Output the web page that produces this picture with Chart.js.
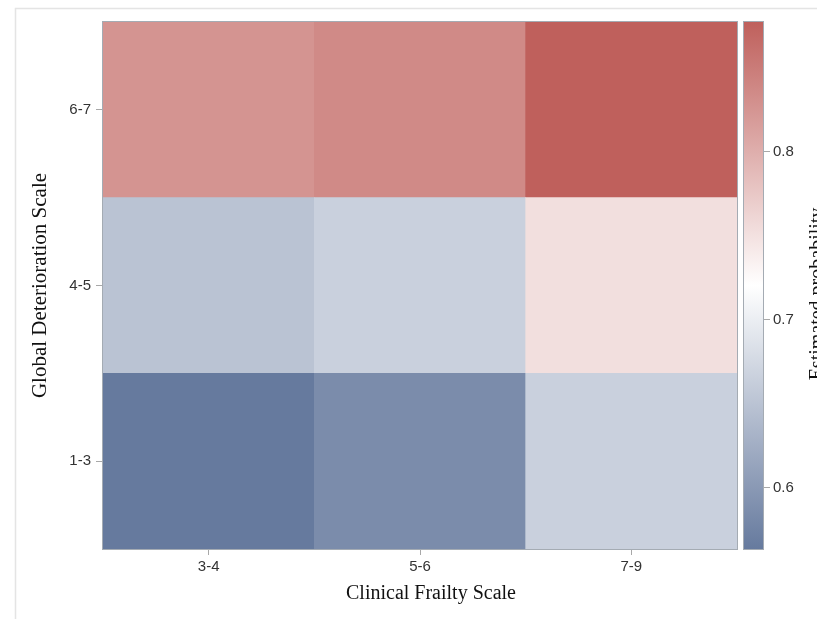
<!DOCTYPE HTML>
<html>
	<head>
		<title>Estimated probability heatmap</title>
		<meta charset="utf-8" />
		<style>
			html, body { margin: 0; padding: 0; background: #fff; }
			#wrap { width: 817px; height: 619px; }
		</style>
	</head>
	<body>
		<div id="wrap"><canvas id="heat" width="817" height="619"></canvas></div>

		<script src="https://cdn.jsdelivr.net/npm/chart.js"></script>
		<script>
			// Categories
			const frailty = ["3-4", "5-6", "7-9"];
			const gds = ["1-3", "4-5", "6-7"];

			// Estimated probability per GDS row, one value per frailty column
			const probGds13 = [0.564, 0.585, 0.665];
			const probGds45 = [0.650, 0.665, 0.752];
			const probGds67 = [0.826, 0.836, 0.877];

			// Colour bar
			const cbTicks = [0.6, 0.7, 0.8];
			const cbMin = 0.5637;
			const cbMax = 0.877;

			const low = [102, 122, 158], mid = [255, 255, 255], high = [191, 96, 92];

			function ramp(v) {
				let t = (v - cbMin) / (cbMax - cbMin);
				t = Math.max(0, Math.min(1, t));
				let a, b, f;
				if (t < 0.5) { a = low; b = mid; f = t / 0.5; }
				else { a = mid; b = high; f = (t - 0.5) / 0.5; }
				const c = a.map((x, i) => Math.round(x + (b[i] - x) * f));
				return "rgb(" + c.join(",") + ")";
			}

			const rows = [probGds13, probGds45, probGds67];
			const datasets = rows.map((vals, r) => ({
				label: gds[r],
				data: vals.map(() => 1),
				probs: vals,
				backgroundColor: vals.map(ramp),
				borderWidth: 0,
				categoryPercentage: 1,
				barPercentage: 1
			}));

			const tickFont = { family: "Liberation Sans", size: 15 };
			const titleFont = "20px 'Liberation Serif'";

			// frame, plot border, colour bar and titles
			const decor = {
				id: "decor",
				beforeDraw(chart) {
					const ctx = chart.ctx;
					ctx.save();
					ctx.strokeStyle = "#e4e4e4";
					ctx.lineWidth = 1.5;
					ctx.beginPath();
					ctx.moveTo(817, 8.5);
					ctx.lineTo(15.5, 8.5);
					ctx.lineTo(15.5, 619);
					ctx.stroke();
					ctx.restore();
				},
				afterDraw(chart) {
					const ctx = chart.ctx;
					const a = chart.chartArea;
					const cb = chart.scales.cb;
					ctx.save();
					ctx.strokeStyle = "#a4abb3";
					ctx.lineWidth = 1;
					ctx.strokeRect(a.left - 0.5, a.top - 0.5, a.right - a.left + 1, a.bottom - a.top + 1);

					// colour bar
					const x0 = cb.left - 19, x1 = cb.left;
					const g = ctx.createLinearGradient(0, cb.bottom, 0, cb.top);
					g.addColorStop(0, ramp(cbMin));
					g.addColorStop(0.5, ramp((cbMin + cbMax) / 2));
					g.addColorStop(1, ramp(cbMax));
					ctx.fillStyle = g;
					ctx.fillRect(x0, cb.top, x1 - x0, cb.bottom - cb.top);
					ctx.strokeRect(x0 - 0.5, cb.top - 0.5, x1 - x0 + 1, cb.bottom - cb.top + 1);

					// titles
					ctx.fillStyle = "#111";
					ctx.font = titleFont;
					ctx.textAlign = "center";
					ctx.textBaseline = "middle";
					ctx.fillText("Clinical Frailty Scale", 431, 594);

					ctx.save();
					ctx.translate(40, (a.top + a.bottom) / 2);
					ctx.rotate(-Math.PI / 2);
					ctx.font = "21px 'Liberation Serif'";
					ctx.fillText("Global Deterioration Scale", 0, 0);
					ctx.restore();

					ctx.save();
					ctx.translate(823, 294);
					ctx.rotate(-Math.PI / 2);
					ctx.textBaseline = "alphabetic";
					ctx.fillText("Estimated probability", 0, 0);
					ctx.restore();
					ctx.restore();
				}
			};

			new Chart(document.getElementById("heat"), {
				type: "bar",
				data: { labels: frailty, datasets: datasets },
				options: {
					responsive: false,
					animation: false,
					layout: { padding: { left: 0, top: 22, right: 0, bottom: 0 } },
					plugins: { legend: { display: false }, tooltip: { enabled: false } },
					scales: {
						x: {
							stacked: true,
							grid: { offset: false, drawOnChartArea: false, tickLength: 6, color: "#a8a8a8" },
							border: { display: false },
							ticks: { font: tickFont, color: "#333", padding: 3, maxRotation: 0 },
							afterFit: s => { s.height = 70; }
						},
						y: {
							stacked: true,
							min: 0,
							max: 3,
							grid: { drawOnChartArea: false, tickLength: 7, color: "#a8a8a8" },
							border: { display: false },
							afterBuildTicks: s => { s.ticks = [0.5, 1.5, 2.5].map(v => ({ value: v })); },
							ticks: {
								font: tickFont, color: "#333", padding: 5,
								callback: v => gds[Math.floor(v)]
							},
							afterFit: s => { s.width = 103; }
						},
						gap: {
							type: "linear",
							position: "right",
							weight: 1,
							grid: { display: false },
							border: { display: false },
							ticks: { display: false },
							afterFit: s => { s.width = 26; }
						},
						cb: {
							type: "linear",
							position: "right",
							weight: 2,
							min: cbMin,
							max: cbMax,
							grid: { drawOnChartArea: false, tickLength: 7, color: "#a8a8a8" },
							border: { display: false },
							afterBuildTicks: s => { s.ticks = cbTicks.map(v => ({ value: v })); },
							ticks: { font: tickFont, color: "#333", padding: 3, callback: v => v.toFixed(1) },
							afterFit: s => { s.width = 54; }
						}
					}
				},
				plugins: [decor]
			});
		</script>
	</body>
</html>
